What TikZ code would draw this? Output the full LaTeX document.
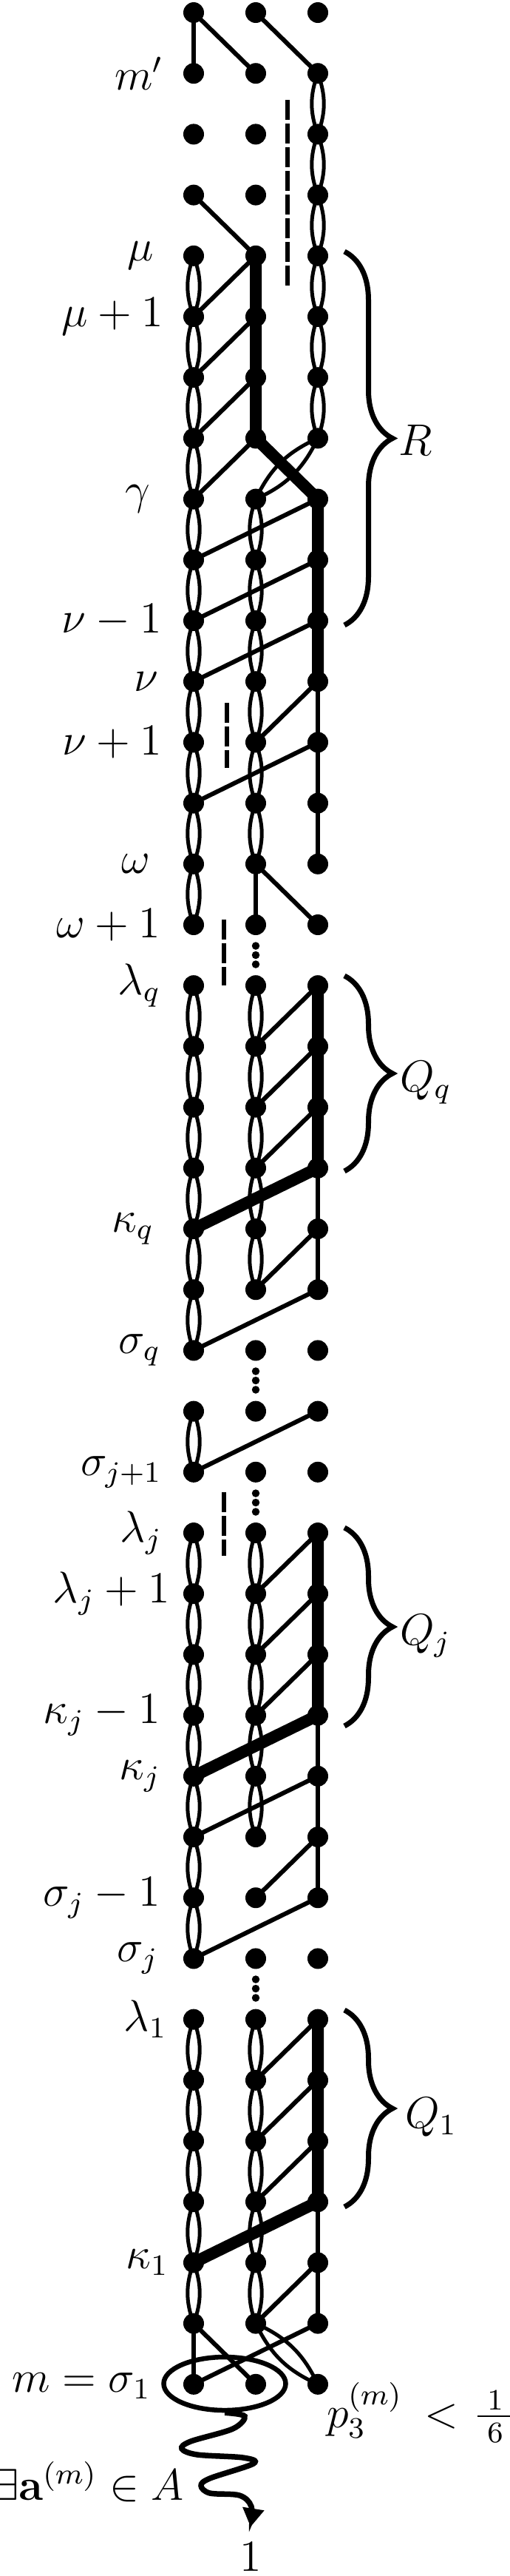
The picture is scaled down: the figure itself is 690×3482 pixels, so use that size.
\documentclass[tikz,border=0pt]{standalone}
\usepackage{amsmath}
\usetikzlibrary{backgrounds,decorations.pathreplacing,shapes.geometric,arrows.meta}
\tikzset{
  vtx/.style={circle,fill=black,inner sep=0pt,minimum size=5.6pt},
  sdot/.style={circle,fill=black,inner sep=0pt,minimum size=2.1pt},
  thn/.style={line width=1.2pt},
  thk/.style={line width=3.2pt,line join=round},
  lns/.style={line width=1.0pt},
  dsh/.style={line width=1.25pt,dash pattern=on 5.3pt off 1.1pt},
  brc/.style={decorate,decoration={brace,amplitude=13pt},line width=1.4pt},
  lbl/.style={anchor=east,inner sep=0pt},
  blbl/.style={anchor=base west,inner sep=0pt},
}
\newcommand\lensAB[2]{\draw[lns] (#1.center) to[bend left=20] (#2.center) (#1.center) to[bend right=20] (#2.center);}
\newcommand\lensrun[3]{\foreach \i [evaluate=\i as \j using int(\i+1)] in {#2,...,#3}{\lensAB{#1\i}{#1\j}}}
\newcommand\rowy[1]{17+82.2*#1}
\begin{document}
\begin{tikzpicture}[x=0.2pt,y=-0.2pt,font=\fontsize{12}{14}\selectfont]
\useasboundingbox (0,0) rectangle (690,3482);
% vertices
\foreach \k in {0,...,39}{
  \pgfmathsetmacro\yy{17+82.2*\k}
  \node[vtx] (a\k) at (262,\yy) {};
  \node[vtx] (b\k) at (346,\yy) {};
  \node[vtx] (c\k) at (430,\yy) {};
}
% small dots
\foreach \m/\yc in {1/1291,2/1866,3/2031,4/2688}{
  \node[sdot] (dA\m) at (346,\yc-12.5) {};
  \node[sdot] (dB\m) at (346,\yc) {};
  \node[sdot] (dC\m) at (346,\yc+12.5) {};
}
% dashed line ends
\coordinate (d1s) at (389,135);  \coordinate (d1e) at (389,388);
\coordinate (d2s) at (307,950);  \coordinate (d2e) at (307,1038);
\coordinate (d3s) at (303,1243); \coordinate (d3e) at (303,1332);
\coordinate (d4s) at (303,2017); \coordinate (d4e) at (303,2103);
\begin{scope}[on background layer]
  \lensrun{a}{4}{14}
  \lensrun{a}{16}{21}
  \lensAB{a23}{a24}
  \lensrun{a}{25}{31}
  \lensrun{a}{33}{37}
  \lensrun{b}{8}{13}
  \lensrun{b}{16}{20}
  \lensrun{b}{25}{29}
  \lensrun{b}{33}{37}
  \lensrun{c}{1}{6}
  \lensAB{c7}{b8}
  \lensAB{b38}{c39}
  \foreach \p/\q in {a0/a1,a0/b1,b0/c1,a3/b4,b4/a5,b5/a6,b6/a7,b7/a8,c8/a9,c9/a10,c10/a11,c11/c12,c12/c13,c13/c14,c11/b12,c12/a13,b14/b15,b14/c15,c16/b17,c17/b18,c18/b19,c19/c20,c20/c21,c20/b21,c21/a22,c23/a24,c25/b26,c26/b27,c27/b28,c28/c29,c29/c30,c30/c31,c29/a30,c30/b31,c31/a32,c33/b34,c34/b35,c35/b36,c36/c37,c37/c38,c37/b38,c38/a39,a38/a39,a38/b39}{\draw[thn] (\p.center) -- (\q.center);}
  \draw[thk] (b4.center) -- (b7.center) -- (c8.center) -- (c11.center);
  \draw[thk] (c16.center) -- (c19.center) -- (a20.center);
  \draw[thk] (c25.center) -- (c28.center) -- (a29.center);
  \draw[thk] (c33.center) -- (c36.center) -- (a37.center);
  \draw[dsh] (d1s) -- (d1e);
  \draw[dsh] (d2s) -- (d2e);
  \draw[dsh] (d3s) -- (d3e);
  \draw[dsh] (d4s) -- (d4e);
\end{scope}
% left labels
\node[lbl] (L1) at (222,{\rowy{1}}) {$m'$};
\node[lbl] (L4) at (209,{\rowy{4}}) {$\mu$};
\node[lbl] (L5) at (222,{\rowy{5}}) {$\mu+1$};
\node[lbl] (L8) at (204,{\rowy{8}}) {$\gamma$};
\node[lbl] (L10) at (220,{\rowy{10}}) {$\nu-1$};
\node[lbl] (L11) at (215,{\rowy{11}}) {$\nu$};
\node[lbl] (L12) at (220,{\rowy{12}}) {$\nu+1$};
\node[lbl] (L14) at (204,{\rowy{14}}) {$\omega$};
\node[lbl] (L15) at (218,{\rowy{15}}) {$\omega+1$};
\node[lbl] (L16) at (218,{\rowy{16}}) {$\lambda_q$};
\node[lbl] (L20) at (209,{\rowy{20}}) {$\kappa_q$};
\node[lbl] (L22) at (218,{\rowy{22}}) {$\sigma_q$};
\node[lbl] (L24) at (220,{\rowy{24}}) {$\sigma_{j+1}$};
\node[lbl] (L25) at (220,{\rowy{25}}) {$\lambda_j$};
\node[lbl] (L26) at (231,{\rowy{26}}) {$\lambda_j+1$};
\node[lbl] (L28) at (218,{\rowy{28}}) {$\kappa_j-1$};
\node[lbl] (L29) at (218,{\rowy{29}}) {$\kappa_j$};
\node[lbl] (L31) at (218,{\rowy{31}}) {$\sigma_j-1$};
\node[lbl] (L32) at (215,{\rowy{32}}) {$\sigma_j$};
\node[lbl] (L33) at (227,{\rowy{33}}) {$\lambda_1$};
\node[lbl] (L37) at (229,{\rowy{37}}) {$\kappa_1$};
% braces
\coordinate (Rt) at (466,340);  \coordinate (Rb) at (466,845);
\coordinate (Qqt) at (466,1319); \coordinate (Qqb) at (466,1583);
\coordinate (Qjt) at (466,2065); \coordinate (Qjb) at (466,2333);
\coordinate (Q1t) at (466,2717); \coordinate (Q1b) at (466,2983);
\draw[brc] (Rt) -- (Rb);
\draw[brc] (Qqt) -- (Qqb);
\draw[brc] (Qjt) -- (Qjb);
\draw[brc] (Q1t) -- (Q1b);
\node[blbl] (RL) at (538,615) {$R$};
\node[blbl] (QqL) at (540,1475) {$Q_q$};
\node[blbl] (QjL) at (540,2223) {$Q_j$};
\node[blbl] (Q1L) at (547,2876) {$Q_1$};
% bottom
\node[draw,ellipse,line width=1.3pt,minimum width=33pt,minimum height=14.4pt,inner sep=0pt] (grp) at (304,3222) {};
\node[anchor=base east,inner sep=0pt] (Lm) at (205,3233) {$m=\sigma_1$};
\node[anchor=base west,inner sep=0pt] (Lp) at (441,3281) {$p_3^{(m)}\mkern4mu<\mkern1mu\frac{\hskip2.6pt 1\hskip2.6pt}{6}$};
\node[anchor=base east,inner sep=0pt] (La) at (250,3379) {$\exists\mathbf{a}^{(m)}\in A$};
\node[inner sep=4pt] (one) at (339,3456) {$1$};
\draw[line width=1.5pt,-{Triangle[width=5.6pt,length=5pt]}] plot[smooth,tension=0.55] coordinates {(grp.south) (331,3266) (315,3283) (258,3300) (246,3310) (267,3318) (329,3322) (343,3330) (284,3350) (272,3360) (284,3370) (324,3373) (340,3388) (one.north)};
\end{tikzpicture}
\end{document}
